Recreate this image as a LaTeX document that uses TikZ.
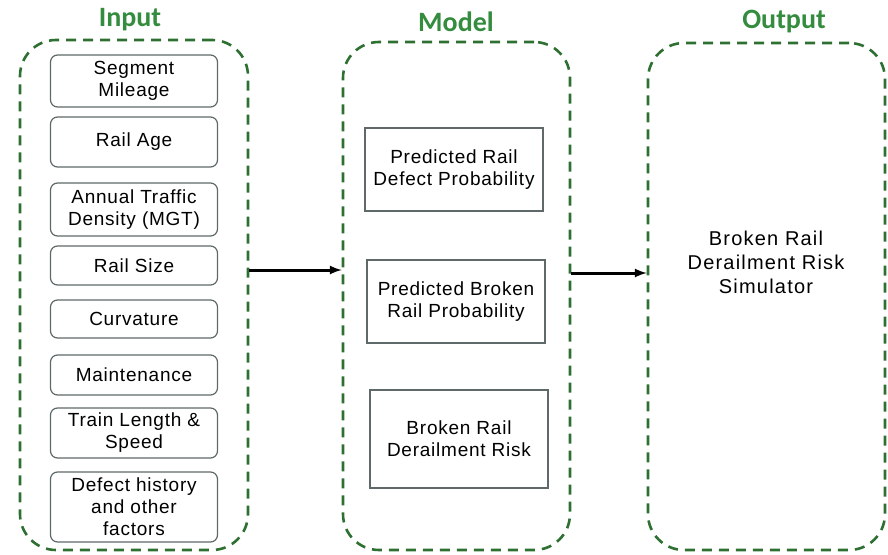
\documentclass[tikz,border=0pt]{standalone}
\usepackage{fontspec}
\setmainfont{Liberation Sans}[LetterSpace=4]
\newfontfamily\headfont{Carlito}
\newfontfamily\spacedfont[LetterSpace=6]{Liberation Sans}
\usetikzlibrary{calc,shapes,arrows}
\definecolor{groupgreen}{RGB}{46,112,50}
\definecolor{headgreen}{RGB}{52,140,62}
\definecolor{edgegray}{RGB}{95,105,105}

\begin{document}
\begin{tikzpicture}[x=1pt,y=-1pt,
    group/.style={draw=groupgreen,line width=2.6pt,dash pattern=on 10pt off 7pt,
        rounded corners=36pt,inner sep=0pt},
    head/.style={text=headgreen,font=\headfont\bfseries\fontsize{28}{30}\selectfont},
    factor/.style={draw=edgegray,line width=1.2pt,rounded corners=7pt,align=center,
        minimum width=167pt,inner sep=0pt,font=\fontsize{19}{22}\selectfont},
    stage/.style={draw=edgegray,line width=1.2pt,align=center,
        minimum width=178pt,inner sep=0pt,font=\fontsize{19}{22}\selectfont},
    linkarrow/.style={draw=black,line width=3pt,-latex}]
    \useasboundingbox (0,0) rectangle (888,554);

    % the three dashed groups
    \node[group,minimum width=228pt,minimum height=510pt] (input) at (134,295) {};
    \node[group,minimum width=227pt,minimum height=508pt] (model) at (456.5,296) {};
    \node[group,minimum width=237pt,minimum height=507pt] (output) at (766.5,296.5) {};
    \node[head] (inputhead) at (130,20) {Input};
    \node[head] (modelhead) at (456,22) {Model};
    \node[head] (outputhead) at (784,22) {Output};

    % input factors
    \foreach \name/\y/\h/\txt in {seg/81/52/{Segment\\Mileage},
            age/142/50/{Rail Age},
            mgt/209.5/53/{Annual Traffic\\Density (MGT)},
            size/265.5/39/{Rail Size},
            curve/319/38/{Curvature},
            maint/375/40/{Maintenance},
            train/433/50/{Train Length \&\\Speed},
            hist/507/70/{Defect history\\and other\\factors}}
        \node[factor,minimum height=\h pt] (\name) at (134,\y) {\txt};

    % model steps
    \node[stage,minimum height=83pt] (defect) at (454,169.5) {Predicted Rail\\Defect Probability};
    \node[stage,minimum height=83pt] (broken) at (456,301.5) {Predicted Broken\\Rail Probability};
    \node[stage,minimum height=98pt] (risk) at (459,439) {Broken Rail\\Derailment Risk};

    \node[align=center,font=\spacedfont\fontsize{20}{24}\selectfont] (sim) at (766,262)
        {Broken Rail\\Derailment Risk\\Simulator};

    % arrows between the groups
    \coordinate (leftarrow) at ([yshift=25pt]input.east);
    \coordinate (rightarrow) at ([yshift=23pt]model.east);
    \draw[linkarrow] (leftarrow) -- (leftarrow -| model.west);
    \draw[linkarrow] (rightarrow) -- (rightarrow -| output.west);
\end{tikzpicture}
\end{document}
